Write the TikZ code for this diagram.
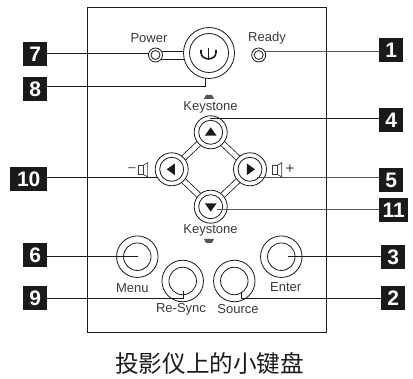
\documentclass[tikz,border=0pt]{standalone}
\usepackage{fontspec}
\setmainfont{Liberation Sans}
\newfontfamily\cjkfont{Noto Sans CJK SC}
\usetikzlibrary{backgrounds}
\definecolor{ink}{HTML}{1A1A1A}
\definecolor{lbl}{HTML}{3A3A3A}
\definecolor{soft}{HTML}{555555}
\tikzset{
  ring/.style={circle,draw=ink,line width=0.8pt,fill=white,inner sep=0pt,outer sep=0pt,minimum size=#1},
  tagbox/.style={fill=ink,text=white,font=\bfseries\fontsize{21}{21}\selectfont,inner sep=0pt,minimum height=24pt,anchor=north west},
  labeltext/.style={text=lbl,font=\fontsize{13}{13}\selectfont,inner sep=0pt},
  lead/.style={draw=ink,line width=0.9pt},
  leadsoft/.style={draw=soft,line width=1pt},
  twin/.style={draw=ink,line width=0.8pt,double=white,double distance=#1},
  glyphfill/.style={fill=ink},
  hintfill/.style={fill=soft},
  spk/.style={draw=lbl,line width=0.7pt},
}
\newcommand{\btn}[5]{\node[ring=#4] (#1) at (#2,#3) {};\node[ring=#5] (#1i) at (#2,#3) {};}
\begin{document}
\begin{tikzpicture}[x=1pt,y=-1pt]
\useasboundingbox (0,0) rectangle (413,379);
% panel
\node[draw=ink,line width=0.9pt,minimum width=238.5pt,minimum height=325pt,inner sep=0pt,anchor=north west] (panel) at (87,6.7) {};
% buttons
\btn{pwr}{209}{53}{51}{39}
\btn{pled}{155.5}{55}{14}{9}
\btn{rled}{258.7}{55}{14}{9}
\btn{up}{210.7}{132.3}{33}{24}
\btn{lf}{171.7}{169.3}{33}{24}
\btn{rt}{250}{169.3}{33}{24}
\btn{dn}{210.7}{206.7}{33}{24}
\btn{menu}{137.3}{256.7}{41.5}{27.5}
\btn{enter}{281.3}{256.7}{41.5}{27.5}
\btn{sync}{182.7}{281}{41.5}{27.5}
\btn{src}{234.3}{281}{41.5}{27.5}
\begin{pgfonlayer}{background}
\draw[twin=4.6pt] (up.center) -- (lf.center);
\draw[twin=4.6pt] (up.center) -- (rt.center);
\draw[twin=4.6pt] (dn.center) -- (lf.center);
\draw[twin=4.6pt] (dn.center) -- (rt.center);
\coordinate (pa) at (155.5,55.8);
\coordinate (pb) at (209,55.8);
\draw[twin=7pt] (pa) -- (pb);
\end{pgfonlayer}
% power glyph
\draw[draw=ink,line width=1.6pt] (201,50) -- (201,52.5) .. controls (201,61) and (216,61) .. (216,52.5) -- (216,50);
\draw[draw=ink,line width=1.6pt] (208.5,48.5) -- (208.5,60.5);
% arrow glyphs
\fill[glyphfill] (204.9,135.6) -- (216.6,135.6) -- (210.7,127.4) -- cycle;
\fill[glyphfill] (204.9,203.4) -- (216.6,203.4) -- (210.7,211.6) -- cycle;
\fill[glyphfill] (174.9,163.5) -- (174.9,175.2) -- (166.7,169.3) -- cycle;
\fill[glyphfill] (246.8,163.5) -- (246.8,175.2) -- (255,169.3) -- cycle;
% keystone hints
\fill[hintfill] (204,99) -- (214,99) -- (212,95) -- (206,95) -- cycle;
\fill[hintfill] (204,239) -- (214,239) -- (212,243) -- (206,243) -- cycle;
% speakers
\draw[spk] (138.5,165.5) rectangle (143,174.5);
\draw[spk] (143,165.5) -- (147.6,162.7) -- (147.6,176.7) -- (143,174.5);
\draw[spk] (272.5,165.5) rectangle (277,174.5);
\draw[spk] (277,165.5) -- (281.7,162.7) -- (281.7,176.7) -- (277,174.5);
% text
\node[labeltext] (tpower) at (149,37.7) {Power};
\node[labeltext] (tready) at (267,37.7) {Ready};
\node[labeltext] (tk1) at (210.5,107.5) {Keystone};
\node[labeltext] (tk2) at (210.5,230.5) {Keystone};
\node[labeltext] (tminus) at (132,169.3) {–};
\node[labeltext,font=\fontsize{15}{15}\selectfont] (tplus) at (290,169.3) {+};
\node[labeltext] (tmenu) at (132.3,288) {Menu};
\node[labeltext] (tenter) at (285.7,287.3) {Enter};
\node[labeltext] (tsync) at (181,309.3) {Re-Sync};
\node[labeltext] (tsrc) at (238,309.3) {Source};
\node[text=ink,inner sep=0pt,font=\cjkfont\fontsize{23.6}{24}\selectfont] (caption) at (209.7,363.3) {投影仪上的小键盘};
% tags
\node[tagbox,minimum width=24pt] (t7) at (23,42) {7};
\node[tagbox,minimum width=24pt] (t8) at (23,76.7) {8};
\node[tagbox,minimum width=37pt] (t10) at (10,166.7) {10};
\node[tagbox,minimum width=24pt] (t6) at (23,243) {6};
\node[tagbox,minimum width=24pt] (t9) at (23,285.7) {9};
\node[tagbox,minimum width=24pt] (t1) at (379,38) {1};
\node[tagbox,minimum width=24pt] (t4) at (379,108) {4};
\node[tagbox,minimum width=24pt] (t5) at (379,168) {5};
\node[tagbox,minimum width=29pt] (t11) at (379,198) {11};
\node[tagbox,minimum width=24pt] (t3) at (381,245) {3};
\node[tagbox,minimum width=24pt] (t2) at (381,286) {2};
% leaders
\coordinate (e7) at (148.5,53.5);
\coordinate (e1) at (264,51.7);
\coordinate (e8) at (205,86.7);
\coordinate (e8b) at (205,78);
\coordinate (e4) at (210,118.7);
\coordinate (e10) at (157,177.3);
\coordinate (e5) at (257,177.3);
\coordinate (e11) at (217,209.3);
\coordinate (e6) at (137.7,256.7);
\coordinate (e3) at (288,256.7);
\coordinate (e9) at (183.3,298.3);
\coordinate (e9b) at (183.3,290.7);
\coordinate (e2) at (241.3,298.3);
\coordinate (e2b) at (241.3,291.7);
\draw[lead] (t7.east |- e7) -- (e7);
\draw[lead] (t8.east |- e8) -- (e8) -- (e8b);
\draw[lead] (t10.east |- e10) -- (e10);
\draw[lead] (t6.east |- e6) -- (e6);
\draw[lead] (t9.east |- e9) -- (e9) -- (e9b);
\draw[leadsoft] (t1.west |- e1) -- (e1);
\draw[lead] (t4.west |- e4) -- (e4);
\draw[leadsoft] (t5.west |- e5) -- (e5);
\draw[leadsoft] (t11.west |- e11) -- (e11);
\draw[lead] (t3.west |- e3) -- (e3);
\draw[lead] (t2.west |- e2) -- (e2) -- (e2b);
\end{tikzpicture}
\end{document}
